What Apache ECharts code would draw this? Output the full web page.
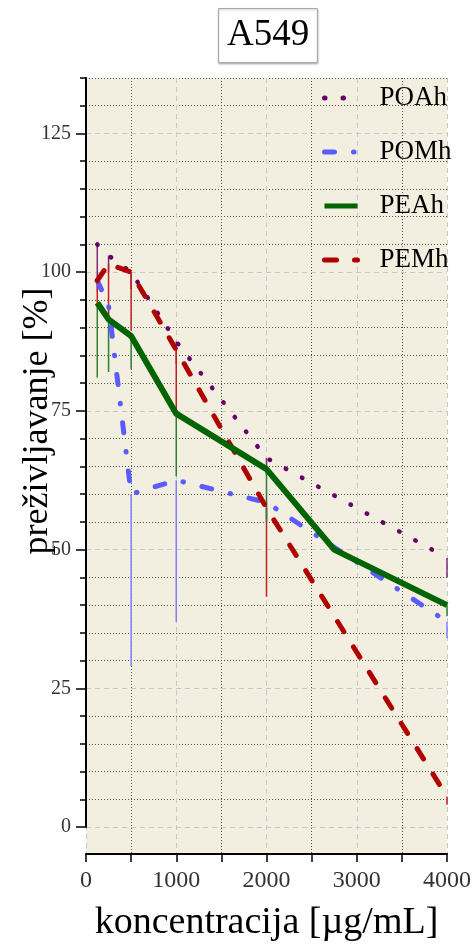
<!DOCTYPE html>
<html><head><meta charset="utf-8">
<script src="https://cdn.jsdelivr.net/npm/echarts@6/dist/echarts.min.js"></script>
<style>html,body{margin:0;padding:0;background:#fff}#c{width:476px;height:947px}</style>
</head><body><div id="c"></div>
<script>
// ---- data ----
const seriesNames = ['POAh', 'POMh', 'PEAh', 'PEMh'];
const conc = [125, 250, 500, 1000, 2000, 4000];
const concPEAh = [125, 250, 500, 1000, 2000, 2750, 4000];
const poah = [105, 103, 100, 87.5, 66.5, 48.5];
const pomh = [98.5, 94, 60, 62.5, 58.5, 37];
const peah = [94.5, 91.5, 88.5, 74.5, 64.5, 50, 40];
const pemh = [98.5, 101.5, 100, 86, 57.5, 5.5];
// minus-direction error bars
const poahErr = [6, 3, 3, 4, 3, 3.5];
const pomhErr = [2, 2, 31, 25.5, 3, 3];
const peahErr = [13.5, 9.5, 6, 11.3, 9.5, 0, 2];
const pemhErr = [4.5, 10, 10.5, 12, 16, 1.5];
const xTickLabels = [0, 1000, 2000, 3000, 4000];
const yTickLabels = [0, 25, 50, 75, 100, 125];

const SERIF = 'Liberation Serif';
const colors = {POAh: '#660066', POMh: '#5b5bff', PEAh: '#006400', PEMh: '#b00000'};
const errColors = {POAh: '#7a2a7a', POMh: '#7f7fff', PEAh: '#2f7f2f', PEMh: '#c02020'};

function pairs(xs, ys) { return xs.map((x, i) => [x, ys[i]]); }
function errData(xs, ys, es) { return xs.map((x, i) => [x, ys[i], es[i]]); }
function errSeries(name, xs, ys, es) {
  return {
    type: 'custom', name: name + ' err', xAxisIndex: 1, yAxisIndex: 1, z: 2,
    data: errData(xs, ys, es), silent: true,
    renderItem: function (params, api) {
      const x = api.value(0), y = api.value(1), e = api.value(2);
      if (!e) return null;
      const p1 = api.coord([x, y]);
      const p2 = api.coord([x, y - e]);
      return {type: 'line', shape: {x1: p1[0], y1: p1[1], x2: p2[0], y2: p2[1]},
        style: {stroke: errColors[name], lineWidth: 1.5}};
    }
  };
}

const dotted = {color: '#555', type: [1, 2], width: 1};
const dashedLight = {color: '#c8c8c8', type: [5, 4], width: 1};

const chart = echarts.init(document.getElementById('c'), null, {renderer: 'canvas'});
chart.setOption({
  animation: false,
  backgroundColor: '#ffffff',
  title: {
    text: 'A549', left: 218, top: 8, padding: [9, 9],
    borderColor: '#aaaaaa', borderWidth: 1, backgroundColor: '#fff',
    shadowBlur: 2, shadowColor: 'rgba(0,0,0,0.25)', shadowOffsetY: 1,
    textStyle: {fontFamily: SERIF, fontSize: 37, fontWeight: 'normal', color: '#000'}
  },
  legend: {
    data: seriesNames, orient: 'vertical', left: 322, top: 83, padding: 0,
    itemWidth: 33, itemHeight: 14, itemGap: 24,
    itemStyle: {opacity: 0},
    lineStyle: {width: 5},
    textStyle: {fontFamily: SERIF, fontSize: 27, color: '#000', lineHeight: 30, padding: [0, 0, 0, 17]}
  },
  graphic: [{
    type: 'text', x: 38, y: 421, rotation: Math.PI / 2,
    style: {text: 'preživljavanje [%]', fontFamily: SERIF, fontSize: 36, fill: '#000', align: 'center', verticalAlign: 'middle'}
  }],
  grid: [
    {left: 86, top: 78, width: 361, height: 779, show: true, backgroundColor: '#f2eee0', borderWidth: 0},
    {left: 86, top: 78, width: 361, height: 749},
    {left: 86, top: 133.5, width: 361, height: 693.5}
  ],
  xAxis: [
    {
      gridIndex: 0, type: 'value', min: 0, max: 4000, interval: 1000,
      name: 'koncentracija [µg/mL]', nameLocation: 'middle', nameGap: 50,
      nameTextStyle: {fontFamily: SERIF, fontSize: 38, color: '#000'},
      axisLine: {show: true, onZero: false, lineStyle: {color: '#000', width: 2}},
      axisTick: {show: true, length: 8, lineStyle: {color: '#000', width: 1.5}},
      minorTick: {show: true, splitNumber: 2, length: 8, lineStyle: {color: '#000', width: 1.5}},
      axisLabel: {fontFamily: SERIF, fontSize: 24, color: '#333', margin: 15,
        formatter: v => xTickLabels.indexOf(v) >= 0 ? String(v) : ''},
      splitLine: {show: true, lineStyle: dashedLight},
      minorSplitLine: {show: true, lineStyle: dotted}
    },
    {gridIndex: 1, type: 'value', min: 0, max: 4000, show: false},
    {gridIndex: 2, type: 'value', min: 0, max: 4000, show: false}
  ],
  yAxis: [
    {gridIndex: 0, type: 'value', min: 0, max: 1, show: false},
    {
      gridIndex: 1, type: 'value', min: 0, max: 135, interval: 5,
      axisLine: {show: true, onZero: false, lineStyle: {color: '#000', width: 2}},
      axisTick: {show: true, length: 6, lineStyle: {color: '#000', width: 1.5}},
      axisLabel: {show: false},
      splitLine: {show: true, lineStyle: {color: ['rgba(0,0,0,0)', '#555', '#555', '#555', '#555'], type: [1, 2], width: 1}}
    },
    {
      gridIndex: 2, type: 'value', min: 0, max: 125, interval: 25,
      axisLine: {show: false},
      axisTick: {show: true, length: 10, lineStyle: {color: '#000', width: 1.5}},
      axisLabel: {fontFamily: SERIF, fontSize: 20, color: '#333', margin: 15,
        formatter: v => yTickLabels.indexOf(v) >= 0 ? String(v) : ''},
      splitLine: {show: true, lineStyle: dashedLight}
    }
  ],
  series: [
    errSeries('POAh', conc, poah, poahErr),
    errSeries('POMh', conc, pomh, pomhErr),
    errSeries('PEMh', conc, pemh, pemhErr),
    errSeries('PEAh', concPEAh, peah, peahErr),
    {name: 'POAh', type: 'line', xAxisIndex: 1, yAxisIndex: 1, z: 3, symbol: 'none',
      data: pairs(conc, poah), color: colors.POAh,
      lineStyle: {color: colors.POAh, width: 4.5, type: [0.5, 18], cap: 'round'}},
    {name: 'POMh', type: 'line', xAxisIndex: 1, yAxisIndex: 1, z: 3, symbol: 'none',
      data: pairs(conc, pomh), color: colors.POMh,
      lineStyle: {color: colors.POMh, width: 5, type: [10, 19, 0.5, 19], cap: 'round'}},
    {name: 'PEMh', type: 'line', xAxisIndex: 1, yAxisIndex: 1, z: 3, symbol: 'none',
      data: pairs(conc, pemh), color: colors.PEMh,
      lineStyle: {color: colors.PEMh, width: 5, type: [12, 18], cap: 'round'}},
    {name: 'PEAh', type: 'line', xAxisIndex: 1, yAxisIndex: 1, z: 3, symbol: 'none',
      data: pairs(concPEAh, peah), color: colors.PEAh,
      lineStyle: {color: colors.PEAh, width: 6, type: 'solid'}}
  ]
});
</script></body></html>
